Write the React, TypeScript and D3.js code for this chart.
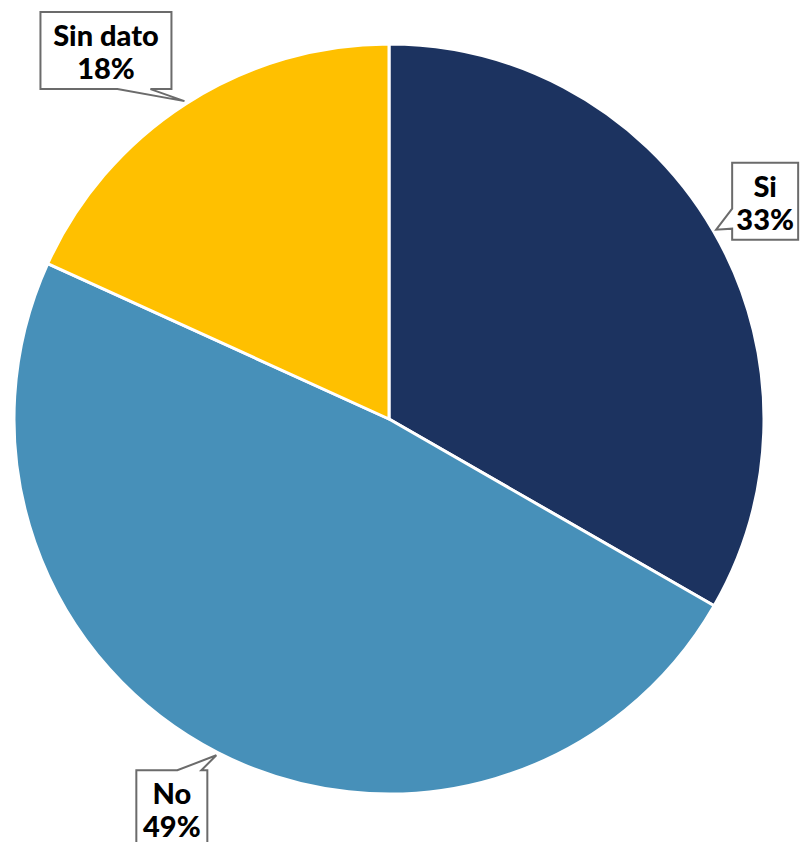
import React from "react";
import * as d3 from "d3";

const categories = ["Si", "No", "Sin dato"];
const values = [33.3, 48.5, 18.2];
const pctLabels = ["33%", "49%", "18%"];
const colors = ["#1C3360", "#4790B9", "#FFC000"];

// callout box offsets relative to the pointer tip (dx, dy, width, height) and pointer base on box edge
const callouts = [
  { dx: 16, dy: -67, w: 66, h: 77, base: [[16, -21], [16, -1]] },
  { dx: -80, dy: 15, w: 71, h: 80, base: [[-39, 15], [-15, 15]] },
  { dx: -144, dy: -89, w: 131, h: 77, base: [[-67, -12], [-34, -12]] },
];

export default function App() {
  const width = 800;
  const height = 842;
  const cx = 389;
  const cy = 419;
  const r = 375;

  const pie = d3.pie<number>().sort(null).value((d) => d);
  const arcs = pie(values);
  const arcGen = d3.arc<d3.PieArcDatum<number>>().innerRadius(0).outerRadius(r);

  return (
    <svg
      width={width}
      height={height}
      style={{ position: "absolute", left: 0, top: 0 }}
      fontFamily="Lato, 'Open Sans', sans-serif"
    >
      <g transform={`translate(${cx},${cy})`}>
        {arcs.map((a, i) => (
          <path key={i} d={arcGen(a) || ""} fill={colors[i]} stroke="#fff" strokeWidth={3} strokeLinejoin="round" />
        ))}
      </g>
      {arcs.map((a, i) => {
        const mid = (a.startAngle + a.endAngle) / 2;
        const tr = r + 3;
        const tx = cx + tr * Math.sin(mid);
        const ty = cy - tr * Math.cos(mid);
        const c = callouts[i];
        const x0 = tx + c.dx;
        const y0 = ty + c.dy;
        const x1 = x0 + c.w;
        const y1 = y0 + c.h;
        const b1 = [tx + c.base[0][0], ty + c.base[0][1]];
        const b2 = [tx + c.base[1][0], ty + c.base[1][1]];
        let pts: number[][] = [];
        if (i === 0) {
          pts = [[x0, y0], [x1, y0], [x1, y1], [x0, y1], b2, [tx, ty], b1];
        } else if (i === 1) {
          pts = [[x0, y0], b1, [tx, ty], b2, [x1, y0], [x1, y1], [x0, y1]];
        } else {
          pts = [[x0, y0], [x1, y0], [x1, y1], b2, [tx, ty], b1, [x0, y1]];
        }
        const mx = (x0 + x1) / 2;
        return (
          <g key={`c${i}`}>
            <path d={"M" + pts.map((p) => p.join(",")).join("L") + "Z"} fill="#fff" stroke="#6b6b6b" strokeWidth={2} />
            <text x={mx} y={y0 + 34} textAnchor="middle" fontWeight={900} fontSize={29} fill="#000">
              {categories[i]}
            </text>
            <text x={mx} y={y0 + 67} textAnchor="middle" fontWeight={900} fontSize={29} fill="#000">
              {pctLabels[i]}
            </text>
          </g>
        );
      })}
    </svg>
  );
}
